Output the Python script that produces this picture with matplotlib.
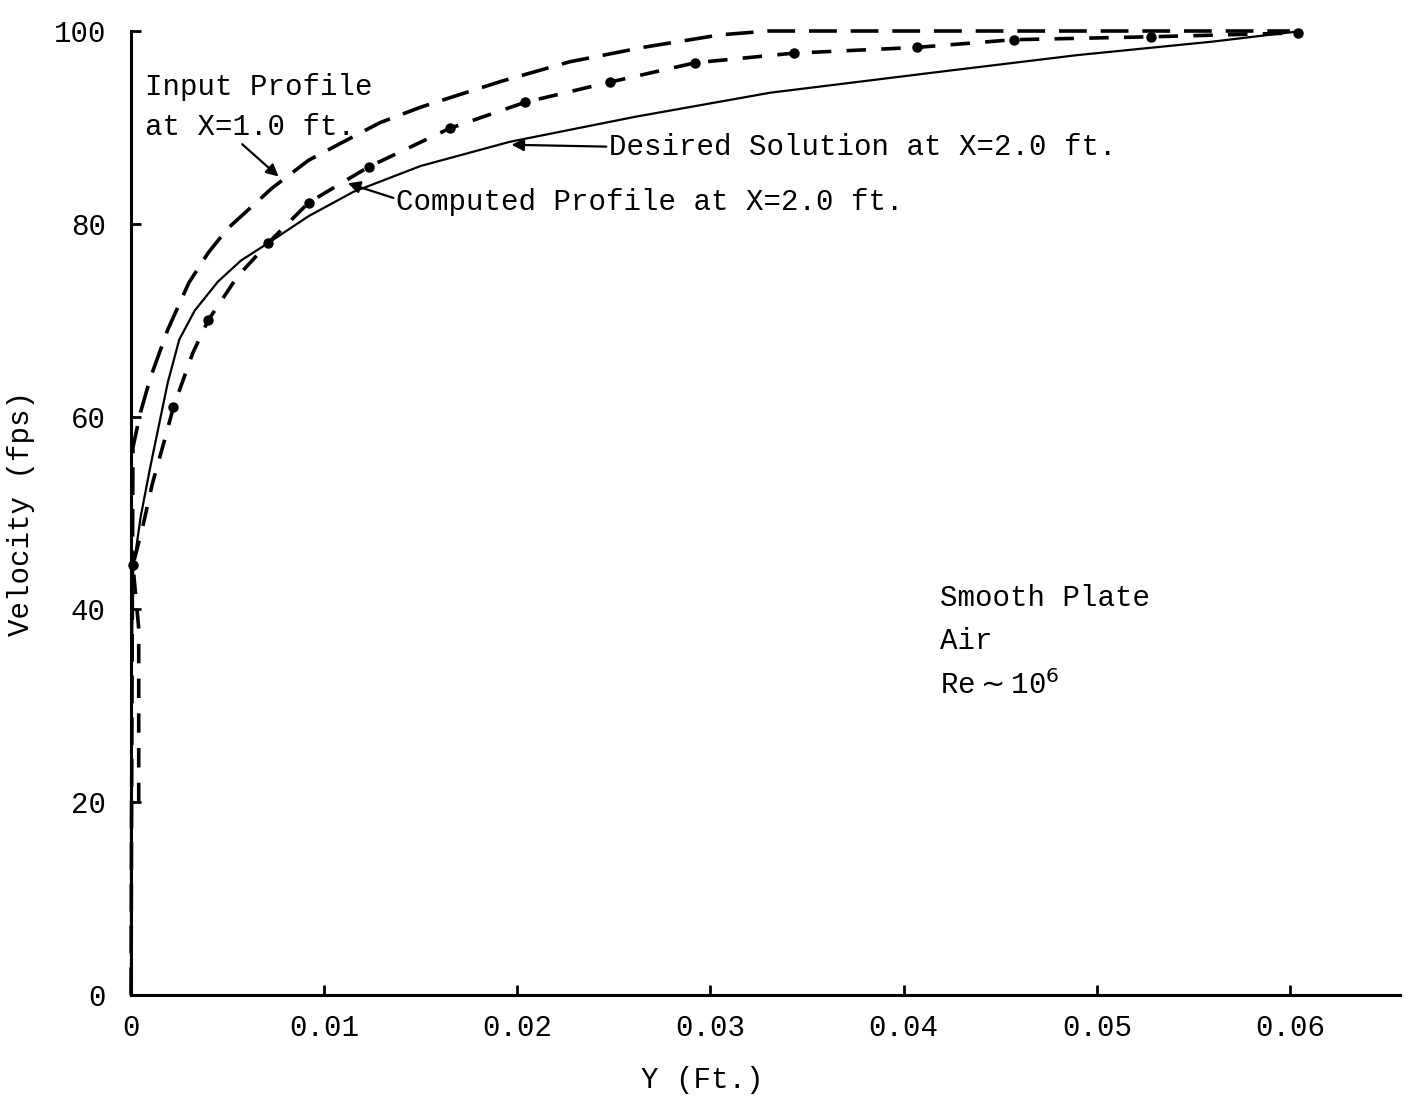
import matplotlib
matplotlib.use("Agg")
import matplotlib.pyplot as plt

# ---- data ----
desired_y = [0, 0, 0.00005, 0.0001, 0.0005, 0.001, 0.0019, 0.0025, 0.0033, 0.0045, 0.0057,
             0.0071, 0.0092, 0.0115, 0.015, 0.0196, 0.0261, 0.0331, 0.042, 0.049, 0.056, 0.0606]
desired_v = [0, 20, 35, 44, 49.6, 54.8, 63.5, 68, 71, 74, 76.2,
             78, 80.8, 83.3, 86, 88.5, 91.1, 93.6, 95.8, 97.5, 98.9, 100]

input_y = [0, 0.00005, 0.0001, 0.0005, 0.001, 0.0019, 0.003, 0.004, 0.005, 0.0073, 0.0092, 0.0109,
           0.0129, 0.015, 0.0167, 0.0192, 0.0227, 0.0265, 0.0305, 0.033, 0.06]
input_v = [0, 30, 56.8, 60.5, 64, 69, 73.9, 77, 79.5, 83.7, 86.6, 88.4,
           90.5, 92.1, 93.2, 94.8, 96.8, 98.3, 99.6, 100, 100]

computed_y = [0.0004, 0.0004, 0.0001, 0.0006, 0.0011, 0.0017, 0.0022, 0.0032, 0.004, 0.0055,
              0.0071, 0.0092, 0.0123, 0.0165, 0.0204, 0.0248, 0.0292, 0.0343, 0.0407, 0.0457,
              0.0528, 0.0604]
computed_v = [20, 38, 44.6, 48.5, 53, 57.3, 61, 66.6, 70, 74.5,
              78, 82.2, 85.9, 89.9, 92.6, 94.7, 96.7, 97.7, 98.3, 99.1,
              99.4, 99.8]
computed_dot_y = [0.0001, 0.0022, 0.004, 0.0071, 0.0092, 0.0123, 0.0165, 0.0204, 0.0248,
                  0.0292, 0.0343, 0.0407, 0.0457, 0.0528, 0.0604]
computed_dot_v = [44.6, 61, 70, 78, 82.2, 85.9, 89.9, 92.6, 94.7, 96.7, 97.7, 98.3, 99.1, 99.4, 99.8]

x_ticks = [0, 0.01, 0.02, 0.03, 0.04, 0.05, 0.06]
x_tick_labels = ["0", "0.01", "0.02", "0.03", "0.04", "0.05", "0.06"]
y_ticks = [0, 20, 40, 60, 80, 100]
y_tick_labels = ["0", "20", "40", "60", "80", "100"]

# ---- style ----
plt.rcParams['font.family'] = ['Liberation Mono', 'DejaVu Sans Mono']
plt.rcParams['lines.scale_dashes'] = False
FS = 21

fig = plt.figure(figsize=(14.09, 10.98), dpi=100)
ax = fig.add_axes([131 / 1409, 103 / 1098, 1269 / 1409, 964 / 1098])

ax.plot(desired_y, desired_v, color='black', lw=1.6, clip_on=False, zorder=3)
ax.plot(input_y, input_v, color='black', lw=2.6, dashes=(20, 10), clip_on=False, zorder=3)
ax.plot(computed_y, computed_v, color='black', lw=2.6, dashes=(14, 11), clip_on=False, zorder=3)
ax.plot(computed_dot_y, computed_dot_v, 'o', color='black', ms=6.5, clip_on=False, zorder=4)

ax.set_xlim(0, 0.0657)
ax.set_ylim(0, 100)
ax.spines['top'].set_visible(False)
ax.spines['right'].set_visible(False)
ax.spines['left'].set_linewidth(2.2)
ax.spines['bottom'].set_linewidth(2.2)

ax.set_xticks(x_ticks)
ax.set_xticklabels(x_tick_labels)
ax.set_yticks(y_ticks)
ax.set_yticklabels(y_tick_labels)
ax.tick_params(axis='both', direction='in', length=7, width=2, labelsize=FS)
ax.tick_params(axis='x', pad=14)
ax.tick_params(axis='y', pad=18)

ax.set_ylabel("Velocity (fps)", fontsize=FS)
ax.yaxis.label.set_verticalalignment('center')
ax.yaxis.set_label_coords(-0.0865, 0.5)
ax.set_xlabel("Y (Ft.)", fontsize=FS)
ax.xaxis.label.set_verticalalignment('center')
ax.xaxis.set_label_coords(0.45, -0.088)

arrow = dict(arrowstyle='-|>', color='black', lw=1.6, mutation_scale=18, shrinkA=0, shrinkB=0)

ax.text(0.0007, 94.2, "Input Profile", fontsize=FS, va='center', ha='left')
ax.annotate("at X=1.0 ft.", xy=(0.00764, 84.9), xytext=(0.0007, 90.0),
            fontsize=FS, va='center', ha='left',
            arrowprops=dict(arrow, relpos=(0.45, 0.0)))

ax.annotate("Desired Solution at X=2.0 ft.", xy=(0.0197, 88.2), xytext=(0.02475, 88.0),
            fontsize=FS, va='center', ha='left',
            arrowprops=dict(arrow, relpos=(0.0, 0.5)))

ax.annotate("Computed Profile at X=2.0 ft.", xy=(0.01123, 84.2), xytext=(0.01373, 82.3),
            fontsize=FS, va='center', ha='left',
            arrowprops=dict(arrow, relpos=(0.0, 0.6)))

ax.text(0.0419, 41.2, "Smooth Plate", fontsize=FS, va='center', ha='left')
ax.text(0.0419, 36.7, "Air", fontsize=FS, va='center', ha='left')
ax.text(0.0419, 32.2, "Re$\\sim$10$^{6}$", fontsize=FS, va='center', ha='left')

fig.savefig("out.png", dpi=100)
